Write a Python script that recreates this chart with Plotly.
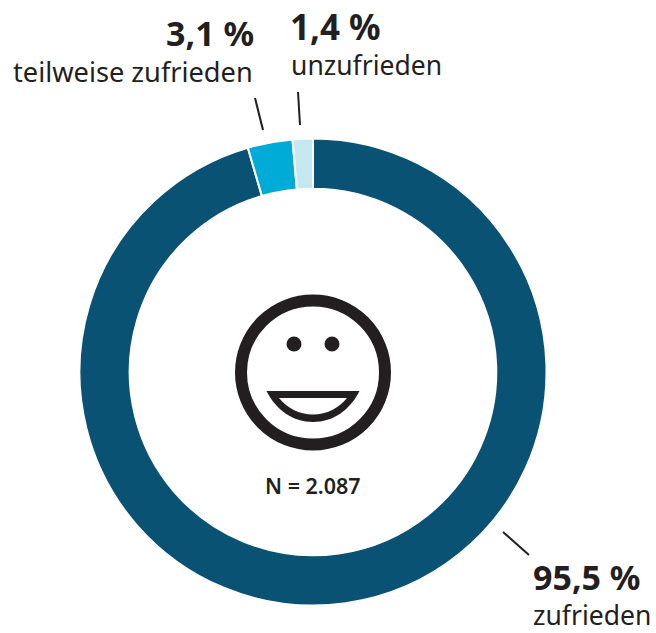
import plotly.graph_objects as go

categories = ["zufrieden", "teilweise zufrieden", "unzufrieden"]
values = [95.5, 3.1, 1.4]
colors = ["#0a5274", "#00acd7", "#c5e7f0"]
sample_note = "N = 2.087"

W, H = 656, 633
INK = "#231f20"
FONT = "Noto Sans"


def px(x):
    return x / W


def py(y):
    return 1 - y / H


def pct(v):
    return f"{v:.1f} %".replace(".", ",")


def path(*items):
    """Build an SVG path in paper coordinates from (cmd, x, y, ...) pixel tuples."""
    out = []
    for item in items:
        cmd, nums = item[0], item[1:]
        pts = []
        for i in range(0, len(nums), 2):
            pts.append(f"{px(nums[i]):.5f},{py(nums[i + 1]):.5f}")
        out.append(cmd + " ".join(pts))
    return " ".join(out) + " Z"


fig = go.Figure(
    go.Pie(
        labels=categories,
        values=values,
        marker=dict(colors=colors, line=dict(color="white", width=2)),
        hole=0.785,
        sort=False,
        direction="clockwise",
        rotation=0,
        textinfo="none",
        showlegend=False,
        domain=dict(x=[px(79.5), px(546.5)], y=[py(605.5), py(138.5)]),
    )
)

shapes = []
# leader lines
for x0, y0, x1, y1 in [(255, 98, 263, 130), (298, 92, 300, 125), (503, 532, 529, 555)]:
    shapes.append(dict(type="line", xref="paper", yref="paper",
                       x0=px(x0), y0=py(y0), x1=px(x1), y1=py(y1),
                       line=dict(color=INK, width=2)))
# face outline
shapes.append(dict(type="circle", xref="paper", yref="paper",
                   x0=px(313 - 72), x1=px(313 + 72), y0=py(372.5 - 72), y1=py(372.5 + 72),
                   line=dict(color=INK, width=12), fillcolor="rgba(0,0,0,0)"))
# eyes
for cx in (294, 332):
    shapes.append(dict(type="circle", xref="paper", yref="paper",
                       x0=px(cx - 7.5), x1=px(cx + 7.5), y0=py(344 - 7.5), y1=py(344 + 7.5),
                       line=dict(width=0), fillcolor=INK))
# mouth
shapes.append(dict(type="path", xref="paper", yref="paper", line=dict(width=0), fillcolor=INK,
                   path=path(("M", 266.5, 391), ("L", 359.5, 391),
                             ("C", 350, 410, 333, 422, 313, 422),
                             ("C", 293, 422, 276, 410, 266.5, 391))))
shapes.append(dict(type="path", xref="paper", yref="paper", line=dict(width=0), fillcolor="white",
                   path=path(("M", 279, 398), ("L", 347, 398),
                             ("C", 339, 408, 327, 414.5, 313, 414.5),
                             ("C", 299, 414.5, 287, 408, 279, 398))))

annotations = []


def label(text, x, y, size, anchor, weight=400):
    annotations.append(dict(
        text=text,
        x=px(x), y=py(y), xref="paper", yref="paper",
        xanchor=anchor, yanchor="middle", showarrow=False,
        font=dict(family=FONT, size=size, color=INK, weight=weight),
    ))


label(pct(values[1]), 256, 33, 34, "right", 700)
label(categories[1], 255, 72, 27.2, "right")
label(pct(values[2]), 288, 26, 35, "left", 700)
label(categories[2], 289, 65, 26.5, "left")
label(pct(values[0]), 530.5, 577, 34, "left", 700)
label(categories[0], 531, 615, 26.5, "left")
label(sample_note, 313, 485, 21.5, "center", 600)

fig.update_layout(
    width=W, height=H,
    margin=dict(l=0, r=0, t=0, b=0),
    paper_bgcolor="white",
    shapes=shapes,
    annotations=annotations,
)
fig.write_html(
    "out.html",
    config={"displayModeBar": False},
    post_script="document.body.style.margin='0';document.documentElement.style.overflow='hidden';",
)
